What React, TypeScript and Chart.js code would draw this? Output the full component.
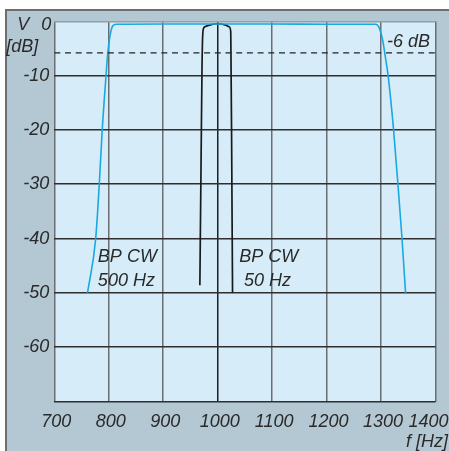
import React, { useEffect, useRef } from "react";
import { Chart, registerables } from "chart.js";

Chart.register(...registerables);

const xTicks = [700, 800, 900, 1000, 1100, 1200, 1300, 1400];
const yTicks = [0, -10, -20, -30, -40, -50, -60];

const wideFreq = [761, 776, 782.6, 788, 795, 798, 801, 804, 807, 811, 815, 900, 1000, 1100, 1200, 1290, 1295, 1300, 1304, 1307, 1313, 1323, 1331, 1338.5, 1345];
const wideDb = [-50, -40, -30, -20, -10, -6, -3.5, -1.8, -0.9, -0.6, -0.55, -0.5, -0.5, -0.5, -0.55, -0.55, -0.9, -2.2, -4, -6, -10, -20, -30, -40, -50];

const narrowFreq = [967.3, 969.5, 971.3, 972, 973.5, 976.6, 985, 1000, 1015, 1021, 1024, 1024.4, 1025.5, 1027.3];
const narrowDb = [-48.6, -26, -8, -4, -1.5, -1.0, -0.7, -0.45, -0.7, -1.0, -1.9, -6, -20, -50];

const dashFreq = [700, 1400];
const dashDb = [-5.8, -5.8];

const FONT = 'italic 18px "Liberation Sans", Arial, sans-serif';
const TEXT = "#2a2a2a";
const PANEL = "#b4c8d4";
const PLOT = "#d6edf9";

const framePlugin = {
  id: "frame",
  beforeDraw(chart: any) {
    const { ctx, chartArea: a } = chart;
    ctx.save();
    ctx.fillStyle = "#ffffff";
    ctx.fillRect(0, 0, chart.width, chart.height);
    ctx.fillStyle = PANEL;
    ctx.fillRect(5, 9, chart.width - 5, chart.height - 9);
    ctx.fillStyle = "#6e6e6e";
    ctx.fillRect(5, 9, chart.width - 5, 2);
    ctx.fillRect(5, 9, 2, chart.height - 9);
    ctx.fillStyle = PLOT;
    ctx.fillRect(a.left, a.top, a.right - a.left, a.bottom - a.top);
    ctx.restore();
  },
  afterDraw(chart: any) {
    const { ctx, chartArea: a } = chart;
    const xs = chart.scales.x;
    const ys = chart.scales.y;
    ctx.save();
    ctx.font = FONT;
    ctx.fillStyle = TEXT;
    ctx.textBaseline = "middle";
    // y tick labels
    ctx.textAlign = "right";
    yTicks.forEach((v) => {
      let py = ys.getPixelForValue(v);
      let px = a.left - 5;
      if (v === 0) {
        py += 4;
        px = a.left - 3;
      }
      ctx.fillText(String(v), px, py);
    });
    // axis title V / [dB]
    ctx.textAlign = "left";
    ctx.fillText("V", a.left - 37, ys.getPixelForValue(0) + 4);
    ctx.fillText("[dB]", a.left - 48, a.top + 26);
    // x tick labels
    ctx.textAlign = "center";
    xTicks.forEach((v, i) => {
      const shift = i === xTicks.length - 1 ? -7 : 2;
      ctx.fillText(String(v), xs.getPixelForValue(v) + shift, a.bottom + 20);
    });
    ctx.textAlign = "right";
    ctx.fillText("f [Hz]", chart.width - 1, a.bottom + 40);
    // annotations
    ctx.textAlign = "left";
    ctx.fillText("BP CW", xs.getPixelForValue(780), ys.getPixelForValue(-43.4));
    ctx.fillText("500 Hz", xs.getPixelForValue(780), ys.getPixelForValue(-47.8));
    ctx.fillText("BP CW", xs.getPixelForValue(1039.5), ys.getPixelForValue(-43.4));
    ctx.fillText("50 Hz", xs.getPixelForValue(1048.5), ys.getPixelForValue(-47.8));
    ctx.fillText("-6 dB", xs.getPixelForValue(1311), ys.getPixelForValue(-3.8));
    ctx.restore();
  },
};

export default function App() {
  const ref = useRef<HTMLCanvasElement | null>(null);
  useEffect(() => {
    if (!ref.current) return;
    const chart = new Chart(ref.current, {
      type: "line",
      data: {
        datasets: [
          {
            data: dashFreq.map((x, i) => ({ x, y: dashDb[i] })),
            borderColor: "#222222",
            borderWidth: 1.3,
            borderDash: [6, 4.7],
            pointRadius: 0,
            fill: false,
          },
          {
            data: wideFreq.map((x, i) => ({ x, y: wideDb[i] })),
            borderColor: "#1aa8e0",
            borderWidth: 1.6,
            pointRadius: 0,
            cubicInterpolationMode: "monotone",
            fill: false,
          },
          {
            data: narrowFreq.map((x, i) => ({ x, y: narrowDb[i] })),
            borderColor: "#1a1a1a",
            borderWidth: 1.7,
            pointRadius: 0,
            cubicInterpolationMode: "monotone",
            fill: false,
          },
        ],
      },
      options: {
        responsive: false,
        animation: false,
        devicePixelRatio: 1,
        layout: { padding: { left: 54.3, top: 21.3, right: 13.5, bottom: 49.5 } },
        plugins: { legend: { display: false }, tooltip: { enabled: false } },
        elements: { line: { tension: 0 } },
        scales: {
          x: {
            type: "linear",
            min: 700,
            max: 1400,
            ticks: { display: false, stepSize: 100 },
            border: { display: false },
            grid: {
              drawTicks: false,
              lineWidth: 1.5,
              color: (c: any) => (c.tick && c.tick.value === 1000 ? "#1e1e1e" : "#6a6e72"),
            },
          },
          y: {
            type: "linear",
            min: -70,
            max: 0,
            ticks: { display: false, stepSize: 10 },
            border: { display: false },
            grid: {
              drawTicks: false,
              lineWidth: 1.5,
              color: (c: any) => (c.tick && c.tick.value === 0 ? "#8da0ab" : "#2e2e2e"),
            },
          },
        },
      },
      plugins: [framePlugin],
    } as any);
    return () => chart.destroy();
  }, []);
  return (
    <div style={{ position: "fixed", left: 0, top: 0, width: 449, height: 451 }}>
      <canvas ref={ref} width={449} height={451} style={{ display: "block" }} />
    </div>
  );
}
